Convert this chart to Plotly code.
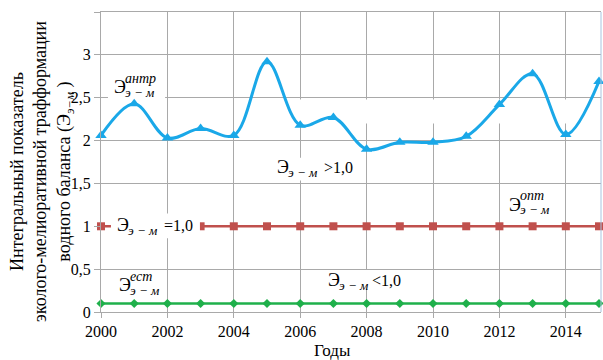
import plotly.graph_objects as go

# Годы наблюдений
years = [2000, 2001, 2002, 2003, 2004, 2005, 2006, 2007,
         2008, 2009, 2010, 2011, 2012, 2013, 2014, 2015]

# Антропогенный показатель Э(э-м)
e_antr = [2.06, 2.43, 2.03, 2.14, 2.06, 2.92, 2.18, 2.27,
          1.90, 1.98, 1.98, 2.05, 2.42, 2.78, 2.07, 2.69]
# Оптимальный уровень
e_opt = [1.0, 1.0, 1.0, 1.0, 1.0, 1.0, 1.0, 1.0,
         1.0, 1.0, 1.0, 1.0, 1.0, 1.0, 1.0, 1.0]
# Естественный уровень
e_est = [0.1, 0.1, 0.1, 0.1, 0.1, 0.1, 0.1, 0.1,
         0.1, 0.1, 0.1, 0.1, 0.1, 0.1, 0.1, 0.1]

x_ticks = [2000, 2002, 2004, 2006, 2008, 2010, 2012, 2014]
y_ticks = [0, 0.5, 1, 1.5, 2, 2.5, 3, 3.5]
y_tick_text = ["0", "0,5", "1", "1,5", "2", "2,5", "3", " "]

SERIF = "Liberation Serif"
GRID = "#a9a9a9"
BLUE = "#1aa8e8"
RED = "#c0504d"
GREEN = "#1fb04b"


def serif(size, color="black"):
    return dict(family=SERIF, size=size, color=color)


fig = go.Figure()

fig.add_trace(go.Scatter(
    x=years, y=e_est, mode="lines+markers", cliponaxis=False,
    line=dict(color=GREEN, width=2.5),
    marker=dict(symbol="diamond", size=7, color=GREEN),
    showlegend=False))

fig.add_trace(go.Scatter(
    x=years, y=e_opt, mode="lines+markers", cliponaxis=False,
    line=dict(color=RED, width=2.5),
    marker=dict(symbol="square", size=8, color=RED),
    showlegend=False))

fig.add_trace(go.Scatter(
    x=years, y=e_antr, mode="lines+markers", cliponaxis=False,
    line=dict(color=BLUE, width=3, shape="spline", smoothing=1),
    marker=dict(symbol="triangle-up", size=10, color=BLUE),
    showlegend=False))

# white boxes behind the text labels
boxes = [
    (2000.21, 2001.93, 2.46, 2.90, "between"),
    (2005.09, 2007.65, 1.535, 1.80, "between"),
    (2006.69, 2009.22, 0.27, 0.49, "between"),
    (2005.60, 2015.06, 2.20, 2.48, "between"),
    (2000.30, 2002.98, 0.86, 1.15, "above"),
]
for x0, x1, y0, y1, layer in boxes:
    fig.add_shape(type="rect", xref="x", yref="y", x0=x0, x1=x1, y0=y0, y1=y1,
                  fillcolor="white", line=dict(width=0), layer=layer)

# right frame edge
fig.add_shape(type="line", xref="paper", yref="paper", x0=1, x1=1, y0=0, y1=1,
              line=dict(color="#a8c4e0", width=1), layer="above")


def label(x, y, sup=None, tail=None, tail_shift=47):
    """Э with subscript э−м, optional superscript and trailing text."""
    common = dict(x=x, y=y, xref="x", yref="y", showarrow=False,
                  xanchor="left", yanchor="middle")
    fig.add_annotation(text="Э", font=serif(18), xshift=0, yshift=0, **common)
    fig.add_annotation(text="<i>э − м</i>", font=serif(13),
                       xshift=11, yshift=-5, **common)
    if sup:
        fig.add_annotation(text="<i>" + sup + "</i>", font=serif(14),
                           xshift=11, yshift=9, **common)
    if tail:
        fig.add_annotation(text=tail, font=serif(16),
                           xshift=tail_shift, yshift=0, **common)


label(2000.33, 2.62, sup="антр")
label(2005.24, 1.69, tail="&gt;1,0")
label(2000.42, 1.01, tail="=1,0")
label(2000.48, 0.31, sup="ест")
label(2006.78, 0.37, tail="&lt;1,0", tail_shift=44)
label(2012.23, 1.25, sup="опт")

# axis titles
fig.add_annotation(
    text="Интегральный показатель<br>эколого-мелиоративной трафформации"
         "<br>водного баланса (Э<sub><i>э−м</i></sub> )",
    xref="paper", yref="paper", x=-0.118, y=0.467, textangle=-90,
    showarrow=False, xanchor="center", yanchor="middle", font=serif(18))
fig.add_annotation(
    text="Годы", xref="paper", yref="paper", x=0.462, y=-0.128,
    showarrow=False, xanchor="center", yanchor="middle", font=serif(17))

fig.update_layout(
    width=603, height=360,
    margin=dict(l=101, r=2, t=12, b=48),
    paper_bgcolor="white", plot_bgcolor="white",
    separators=", ",
    font=serif(16),
)
fig.update_xaxes(
    range=[2000, 2015.06], tickvals=x_ticks,
    showgrid=True, gridcolor=GRID, gridwidth=1, zeroline=False,
    showline=True, linecolor=GRID, linewidth=1, mirror=True,
    ticks="outside", ticklen=5, tickcolor=GRID, tickfont=serif(16))
fig.update_yaxes(
    range=[0, 3.5], tickvals=y_ticks, ticktext=y_tick_text,
    showgrid=True, gridcolor=GRID, gridwidth=1, zeroline=False,
    showline=True, linecolor=GRID, linewidth=1,
    ticks="outside", ticklen=6, tickcolor=GRID, tickfont=serif(16))

fig.write_html("out.html")
